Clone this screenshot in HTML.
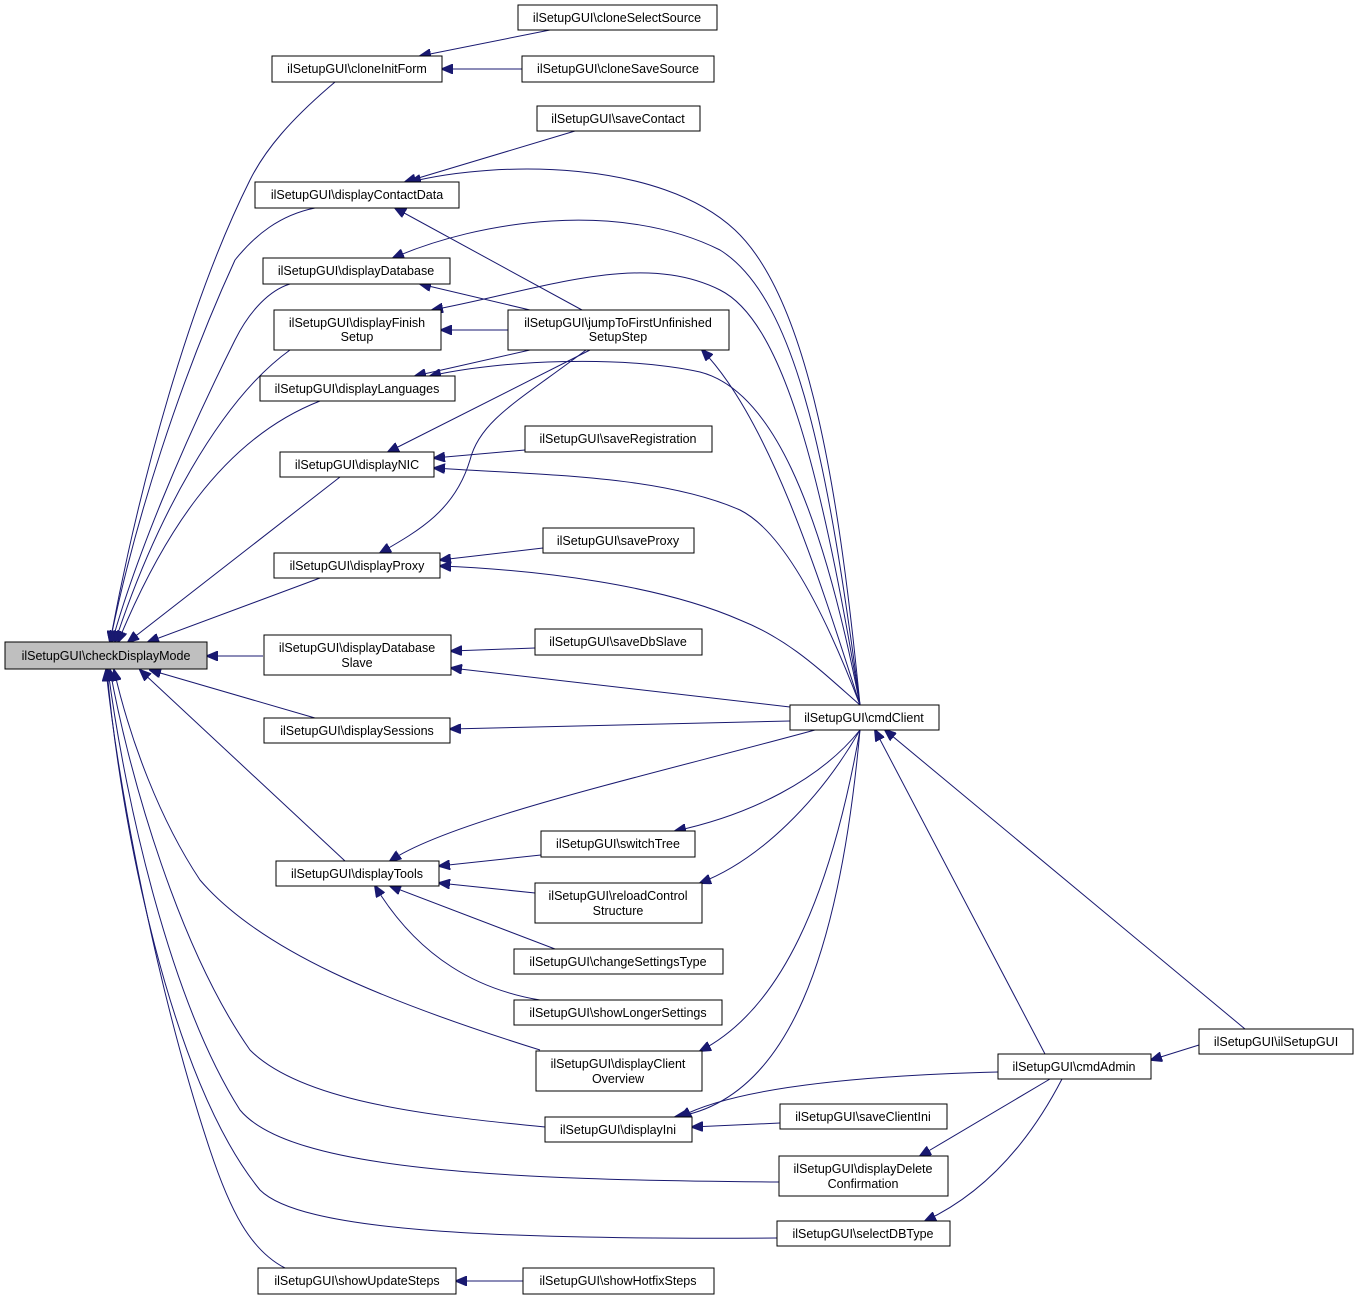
<!DOCTYPE html>
<html><head><meta charset="utf-8"><style>
html,body{margin:0;padding:0;background:#fff}
svg{display:block}
text{font-family:"Liberation Sans",Arial,sans-serif;font-size:12.5px;fill:#000}
.n{fill:#fff;stroke:#000;stroke-width:1}
.e{fill:none;stroke:#191970;stroke-width:1}
</style></head><body>
<svg width="1359" height="1301" viewBox="0 0 1359 1301">
<defs><marker id="a" markerWidth="12" markerHeight="10" refX="11" refY="5" orient="auto" markerUnits="userSpaceOnUse"><path d="M0,0 L12,5 L0,10 Z" fill="#191970" stroke="#191970"/></marker></defs>
<g class="e" marker-end="url(#a)">
<path d="M335,82 C290,120 265,150 250,180 C190,300 140,480 110,642"/>
<path d="M315,208 C280,215 255,235 235,260 C180,380 135,520 110,642"/>
<path d="M290,284 C270,290 250,310 235,340 C180,450 135,560 112,642"/>
<path d="M290,350 C220,400 155,520 115,642"/>
<path d="M320,401 C220,440 160,540 118,642"/>
<path d="M340,477 L128,642"/>
<path d="M320,578 L148,642"/>
<path d="M263,656 L207,656"/>
<path d="M315,718 L150,670"/>
<path d="M345,861 L140,670"/>
<path d="M540,1050 C380,1000 260,950 200,880 C160,820 130,740 114,670"/>
<path d="M545,1127 C420,1115 300,1100 250,1050 C180,950 130,780 110,670"/>
<path d="M779,1182 C500,1180 290,1170 240,1110 C170,1000 125,800 108,670"/>
<path d="M777,1238 C480,1240 300,1230 260,1190 C170,1080 120,820 107,670"/>
<path d="M285,1268 C250,1250 230,1210 210,1150 C160,1000 120,800 106,670"/>
<path d="M550,30 L420,56"/>
<path d="M522,69 L442,69"/>
<path d="M575,131 L405,182"/>
<path d="M860,705 C840,500 810,300 735,230 C660,160 500,160 410,182"/>
<path d="M582,310 L395,208"/>
<path d="M860,705 C830,480 800,300 720,250 C620,200 480,220 393,258"/>
<path d="M530,310 L420,284"/>
<path d="M860,705 C820,460 780,320 720,290 C640,250 540,290 432,310"/>
<path d="M508,330 L441,330"/>
<path d="M530,350 L415,376"/>
<path d="M860,705 C820,500 770,390 700,372 C620,355 500,360 430,376"/>
<path d="M860,705 C820,580 770,420 702,350"/>
<path d="M590,350 L388,452"/>
<path d="M586,350 C520,400 480,420 470,460 C455,510 420,530 380,553"/>
<path d="M525,450 L434,458"/>
<path d="M860,705 C820,600 780,530 740,510 C660,475 540,475 434,468"/>
<path d="M543,548 L440,560"/>
<path d="M860,705 C820,670 790,640 740,620 C660,585 540,570 440,566"/>
<path d="M535,648 L451,651"/>
<path d="M790,707 L451,668"/>
<path d="M790,721 L450,729"/>
<path d="M815,730 C650,775 450,820 390,861"/>
<path d="M541,855 L439,866"/>
<path d="M860,730 C820,780 750,815 675,831"/>
<path d="M535,893 L439,883"/>
<path d="M860,730 C820,800 760,860 700,883"/>
<path d="M555,949 L390,886"/>
<path d="M540,1000 C480,990 420,960 375,886"/>
<path d="M860,730 C830,900 780,1010 700,1051"/>
<path d="M860,730 C840,950 790,1100 675,1117"/>
<path d="M998,1072 C880,1075 740,1085 680,1117"/>
<path d="M780,1123 L692,1127"/>
<path d="M1050,1079 L920,1156"/>
<path d="M1062,1079 C1020,1160 970,1200 925,1221"/>
<path d="M1045,1054 L875,730"/>
<path d="M1245,1029 L885,730"/>
<path d="M1199,1045 L1151,1060"/>
<path d="M523,1281 L456,1281"/>
</g>
<g>
<rect x="5" y="642" width="202" height="27" fill="#bfbfbf" stroke="#000"/><text x="106" y="660" text-anchor="middle">ilSetupGUI\checkDisplayMode</text>
<rect class="n" x="272" y="56" width="170" height="26"/><text x="357" y="73" text-anchor="middle">ilSetupGUI\cloneInitForm</text>
<rect class="n" x="518" y="5" width="199" height="25"/><text x="617" y="22" text-anchor="middle">ilSetupGUI\cloneSelectSource</text>
<rect class="n" x="522" y="56" width="192" height="26"/><text x="618" y="73" text-anchor="middle">ilSetupGUI\cloneSaveSource</text>
<rect class="n" x="537" y="106" width="163" height="25"/><text x="618" y="123" text-anchor="middle">ilSetupGUI\saveContact</text>
<rect class="n" x="255" y="182" width="204" height="26"/><text x="357" y="199" text-anchor="middle">ilSetupGUI\displayContactData</text>
<rect class="n" x="263" y="258" width="187" height="26"/><text x="356" y="275" text-anchor="middle">ilSetupGUI\displayDatabase</text>
<rect class="n" x="274" y="310" width="167" height="40"/><text x="357" y="327" text-anchor="middle">ilSetupGUI\displayFinish</text><text x="357" y="341" text-anchor="middle">Setup</text>
<rect class="n" x="508" y="310" width="221" height="40"/><text x="618" y="327" text-anchor="middle">ilSetupGUI\jumpToFirstUnfinished</text><text x="618" y="341" text-anchor="middle">SetupStep</text>
<rect class="n" x="260" y="376" width="195" height="25"/><text x="357" y="393" text-anchor="middle">ilSetupGUI\displayLanguages</text>
<rect class="n" x="525" y="426" width="187" height="26"/><text x="618" y="443" text-anchor="middle">ilSetupGUI\saveRegistration</text>
<rect class="n" x="280" y="452" width="154" height="25"/><text x="357" y="469" text-anchor="middle">ilSetupGUI\displayNIC</text>
<rect class="n" x="543" y="528" width="151" height="25"/><text x="618" y="545" text-anchor="middle">ilSetupGUI\saveProxy</text>
<rect class="n" x="274" y="553" width="166" height="25"/><text x="357" y="570" text-anchor="middle">ilSetupGUI\displayProxy</text>
<rect class="n" x="264" y="635" width="187" height="40"/><text x="357" y="652" text-anchor="middle">ilSetupGUI\displayDatabase</text><text x="357" y="667" text-anchor="middle">Slave</text>
<rect class="n" x="535" y="629" width="167" height="26"/><text x="618" y="646" text-anchor="middle">ilSetupGUI\saveDbSlave</text>
<rect class="n" x="790" y="705" width="149" height="25"/><text x="864" y="722" text-anchor="middle">ilSetupGUI\cmdClient</text>
<rect class="n" x="264" y="718" width="186" height="25"/><text x="357" y="735" text-anchor="middle">ilSetupGUI\displaySessions</text>
<rect class="n" x="541" y="831" width="154" height="26"/><text x="618" y="848" text-anchor="middle">ilSetupGUI\switchTree</text>
<rect class="n" x="276" y="861" width="163" height="25"/><text x="357" y="878" text-anchor="middle">ilSetupGUI\displayTools</text>
<rect class="n" x="535" y="883" width="167" height="40"/><text x="618" y="900" text-anchor="middle">ilSetupGUI\reloadControl</text><text x="618" y="915" text-anchor="middle">Structure</text>
<rect class="n" x="514" y="949" width="209" height="25"/><text x="618" y="966" text-anchor="middle">ilSetupGUI\changeSettingsType</text>
<rect class="n" x="514" y="1000" width="208" height="25"/><text x="618" y="1017" text-anchor="middle">ilSetupGUI\showLongerSettings</text>
<rect class="n" x="536" y="1051" width="166" height="40"/><text x="618" y="1068" text-anchor="middle">ilSetupGUI\displayClient</text><text x="618" y="1083" text-anchor="middle">Overview</text>
<rect class="n" x="1199" y="1029" width="154" height="25"/><text x="1276" y="1046" text-anchor="middle">ilSetupGUI\ilSetupGUI</text>
<rect class="n" x="998" y="1054" width="153" height="25"/><text x="1074" y="1071" text-anchor="middle">ilSetupGUI\cmdAdmin</text>
<rect class="n" x="780" y="1104" width="167" height="25"/><text x="863" y="1121" text-anchor="middle">ilSetupGUI\saveClientIni</text>
<rect class="n" x="545" y="1117" width="147" height="25"/><text x="618" y="1134" text-anchor="middle">ilSetupGUI\displayIni</text>
<rect class="n" x="779" y="1156" width="169" height="40"/><text x="863" y="1173" text-anchor="middle">ilSetupGUI\displayDelete</text><text x="863" y="1188" text-anchor="middle">Confirmation</text>
<rect class="n" x="777" y="1221" width="173" height="25"/><text x="863" y="1238" text-anchor="middle">ilSetupGUI\selectDBType</text>
<rect class="n" x="258" y="1268" width="198" height="26"/><text x="357" y="1285" text-anchor="middle">ilSetupGUI\showUpdateSteps</text>
<rect class="n" x="523" y="1268" width="191" height="26"/><text x="618" y="1285" text-anchor="middle">ilSetupGUI\showHotfixSteps</text>
</g>
</svg>
</body></html>
